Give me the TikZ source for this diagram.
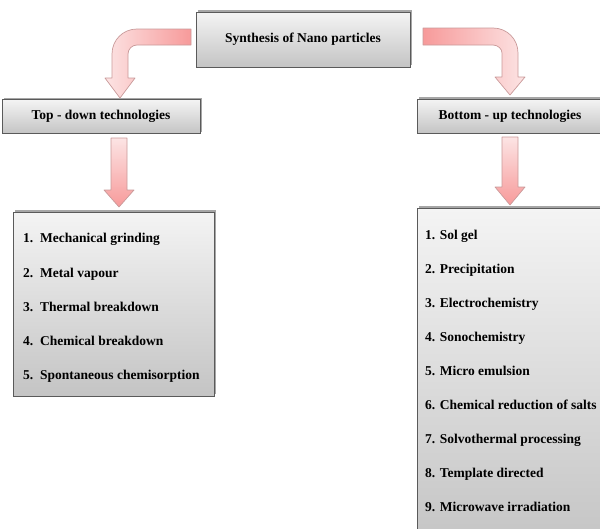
\documentclass[tikz,border=0pt]{standalone}
\usepackage{fontspec}
\setmainfont{Liberation Serif}
\usetikzlibrary{shadows}
\definecolor{boxedge}{HTML}{5A5A5A}
\definecolor{boxtop}{HTML}{F4F4F4}
\definecolor{boxbot}{HTML}{C4C4C4}
\definecolor{pinklight}{HTML}{FCE4E4}
\definecolor{pinkdark}{HTML}{F79A9A}
\definecolor{arrowedge}{HTML}{C99A9A}
\tikzset{
  graybox/.style={draw=boxedge, line width=0.9pt, top color=boxtop, bottom color=boxbot,
    drop shadow={shadow xshift=2pt, shadow yshift=2pt, opacity=0.35, fill=black}},
  headbox/.style={graybox, inner sep=0pt, font=\bfseries\fontsize{13.5}{15}\selectfont},
  itemtext/.style={anchor=base west, inner sep=0pt, font=\bfseries\fontsize{13.5}{15}\selectfont},
  pinkarrow/.style={draw=arrowedge, line width=0.7pt, line join=round},
}
\begin{document}
\begin{tikzpicture}[x=1pt,y=-1pt]
\useasboundingbox (0,0) rectangle (600,528);
\clip (0,0) rectangle (600,528);
% boxes
\node[headbox, minimum width=214pt, minimum height=55pt] (top) at (303,39.5) {Synthesis of Nano particles};
\node[headbox, minimum width=198pt, minimum height=34pt] (td) at (101,116.5) {Top - down technologies};
\node[headbox, minimum width=186pt, minimum height=34pt] (bu) at (510,116) {Bottom - up technologies};
\node[graybox, minimum width=201pt, minimum height=184pt, inner sep=0pt] (tdlist) at (113.5,304) {};
\node[graybox, minimum width=200pt, minimum height=340pt, inner sep=0pt] (bulist) at (517,378) {};
% left curved arrow
\path[pinkarrow, left color=pinklight, right color=pinkdark]
  (191,29) -- (137,29) .. controls (123,29) and (112,40) .. (112,54) -- (112,78)
  -- (105,78) -- (120,98) -- (135,78) -- (128,78) -- (128,54)
  .. controls (128,49) and (132,45) .. (137,45) -- (191,45) -- cycle;
% right curved arrow
\path[pinkarrow, left color=pinkdark, right color=pinklight]
  (423,28) -- (493,28) .. controls (507,28) and (518,39) .. (518,53) -- (518,77)
  -- (525,77) -- (510,95) -- (495,77) -- (502,77) -- (502,53)
  .. controls (502,49) and (498,45) .. (493,45) -- (423,45) -- cycle;
% straight arrows
\path[pinkarrow, top color=pinklight, bottom color=pinkdark]
  (111,138) -- (127,138) -- (127,190) -- (134,190) -- (119,207) -- (104,190) -- (111,190) -- cycle;
\path[pinkarrow, top color=pinklight, bottom color=pinkdark]
  (502,137) -- (518,137) -- (518,187) -- (525,187) -- (510,205) -- (495,187) -- (502,187) -- cycle;
% left list
\node[itemtext] (l1n) at (23,242.5) {1.};
\node[itemtext] (l1) at (40,242.5) {Mechanical grinding};
\node[itemtext] (l2n) at (23,277) {2.};
\node[itemtext] (l2) at (40,277) {Metal vapour};
\node[itemtext] (l3n) at (23,311) {3.};
\node[itemtext] (l3) at (40,311) {Thermal breakdown};
\node[itemtext] (l4n) at (23,345.5) {4.};
\node[itemtext] (l4) at (40,345.5) {Chemical breakdown};
\node[itemtext] (l5n) at (23,379.5) {5.};
\node[itemtext] (l5) at (40,379.5) {Spontaneous chemisorption};
% right list
\node[itemtext] (r1) at (425,239.5) {1. Sol gel};
\node[itemtext] (r2) at (425,273.5) {2. Precipitation};
\node[itemtext] (r3) at (425,307.5) {3. Electrochemistry};
\node[itemtext] (r4) at (425,341.5) {4. Sonochemistry};
\node[itemtext] (r5) at (425,375.5) {5. Micro emulsion};
\node[itemtext] (r6) at (425,409.5) {6. Chemical reduction of salts};
\node[itemtext] (r7) at (425,443.5) {7. Solvothermal processing};
\node[itemtext] (r8) at (425,477.5) {8. Template directed};
\node[itemtext] (r9) at (425,511.5) {9. Microwave irradiation};
\end{tikzpicture}
\end{document}
